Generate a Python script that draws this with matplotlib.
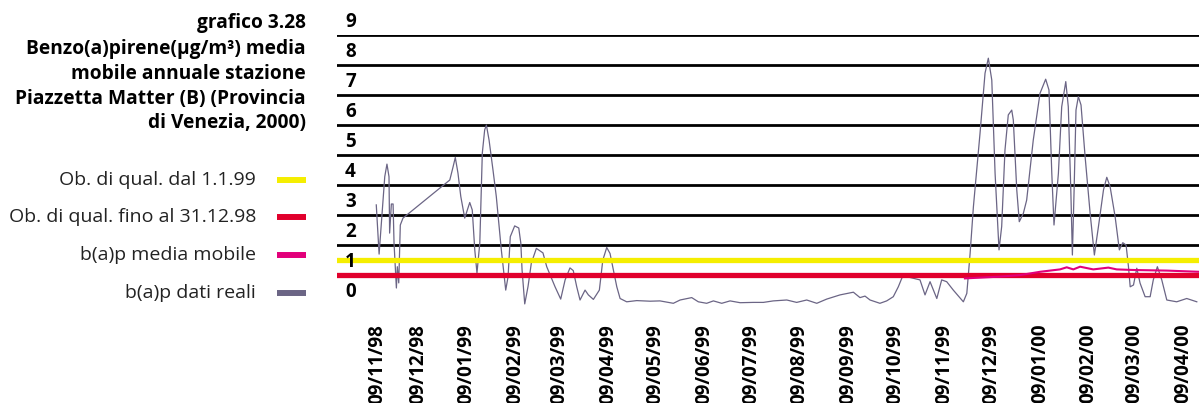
import numpy as np
import pandas as pd
import matplotlib
matplotlib.use("Agg")
import matplotlib.pyplot as plt
from matplotlib.lines import Line2D
from matplotlib.transforms import ScaledTranslation

plt.rcParams.update({"font.family": "Open Sans", "font.size": 12})

START = pd.Timestamp("1998-11-09")

# giorni dal 09/11/98 (ug/m3)
giorni_reali = [3.4, 5.2, 8.8, 10.2, 11.5, 11.9, 13.0, 14.1, 14.7, 16.2, 16.8, 17.7, 18.7, 20.4,
                50.2, 52.3, 53.7, 55.4, 57.2, 59.7, 62.9, 64.5, 66.1, 67.5, 69.3, 70.9, 72.4,
                73.5, 75.2, 77.7, 79.8, 83.0, 85.8, 87.3, 88.7, 91.5, 94.1, 95.4, 96.2, 97.9,
                100.0, 102.1, 105.3, 109.5, 111.9, 117.2, 120.8, 123.6, 126.7, 128.8, 131.0,
                133.1, 136.3, 138.4, 141.6, 145.4, 147.6, 150.1, 152.2, 154.3, 156.5, 158.6,
                162.8, 169.2, 177.7, 184.0, 192.5, 196.8, 204.2, 208.4, 213.7, 218.0, 223.3,
                228.6, 235.0, 243.4, 249.8, 256.1, 264.7, 271.0, 277.4, 283.8, 290.1, 298.6,
                307.1, 311.3, 314.5, 317.7, 324.0, 328.3, 332.5, 335.7, 338.5, 343.2, 349.5,
                352.7, 355.9, 360.2, 363.3, 366.5, 370.7, 377.1, 379.3, 381.4, 383.5, 387.7,
                390.9, 393.0, 395.2, 397.3, 399.8, 401.5, 403.6, 405.7, 407.9, 408.9, 411.1,
                412.7, 415.3, 417.4, 421.6, 425.9, 429.5, 431.6, 433.4, 434.8, 437.6, 439.7,
                442.3, 443.9, 445.5, 446.5, 447.6, 448.8, 450.3, 452.0, 454.6, 457.8, 460.5,
                463.1, 466.3, 468.4, 470.5, 473.7, 476.4, 478.6, 480.7, 482.2, 483.3, 485.4,
                487.5, 489.6, 492.8, 496.0, 498.0, 500.6, 503.4, 506.6, 512.9, 519.3, 525.7]
dati_reali = [3.32, 1.68, 4.26, 4.68, 4.26, 2.38, 3.35, 3.35, 2.05, 0.55, 1.26, 0.72, 2.65, 2.88,
              4.15, 4.59, 4.90, 4.38, 3.60, 2.88, 3.40, 3.15, 1.82, 1.05, 2.05, 5.05, 5.82,
              5.98, 5.48, 4.48, 3.60, 1.82, 0.48, 0.93, 2.26, 2.62, 2.55, 2.05, 1.15, 0.02,
              0.60, 1.38, 1.87, 1.72, 1.26, 0.59, 0.18, 0.82, 1.22, 1.13, 0.59,
              0.15, 0.48, 0.32, 0.17, 0.48, 1.48, 1.90, 1.70, 1.15, 0.59, 0.20,
              0.09, 0.13, 0.11, 0.12, 0.04, 0.15, 0.23, 0.09, 0.04, 0.12, 0.04,
              0.12, 0.06, 0.07, 0.07, 0.12, 0.15, 0.07, 0.15, 0.04, 0.18, 0.32,
              0.41, 0.23, 0.28, 0.15, 0.04, 0.12, 0.26, 0.59, 0.95, 0.90, 0.82,
              0.32, 0.76, 0.20, 0.82, 0.76, 0.48, 0.09, 0.37, 1.70, 3.26, 5.70,
              7.71, 8.21, 7.48, 4.37, 1.82, 2.60, 5.15, 6.32, 6.48, 6.15, 3.82,
              2.76, 3.04, 3.48, 5.48, 7.04, 7.51, 7.15, 4.37, 2.65, 4.37, 6.59,
              7.43, 6.59, 3.82, 1.65, 3.82, 6.48, 6.93, 6.65, 4.93, 3.04, 1.65,
              2.60, 3.82, 4.24, 3.93, 2.93, 1.82, 2.06, 1.98, 1.26, 0.59, 0.65,
              1.21, 0.71, 0.26, 0.26, 0.82, 1.26, 0.82, 0.15, 0.09, 0.20, 0.09]

giorni_media = [378.1, 400.4, 413.2, 425.9, 438.6, 442.9, 447.1, 451.4, 459.8, 469.4, 474.7,
                485.3, 506.6, 527.1]
media_mobile = [0.87, 0.93, 0.98, 1.09, 1.17, 1.24, 1.17, 1.26, 1.17, 1.23, 1.17,
                1.15, 1.13, 1.09]

ob_dal_1_1_99 = 1.5
ob_fino_31_12_98 = 1.0

tick_labels = ["09/11/98", "09/12/98", "09/01/99", "09/02/99", "09/03/99", "09/04/99",
               "09/05/99", "09/06/99", "09/07/99", "09/08/99", "09/09/99", "09/10/99",
               "09/11/99", "09/12/99", "09/01/00", "09/02/00", "09/03/00", "09/04/00"]
y_labels = list(range(0, 10))

titolo = ["grafico 3.28",
          "Benzo(a)pirene(\u00b5g/m\u00b3) media",
          "mobile annuale stazione",
          "Piazzetta Matter (B) (Provincia",
          "di Venezia, 2000)"]
legenda = [("Ob. di qual. dal 1.1.99", "#f5ee00"),
           ("Ob. di qual. fino al 31.12.98", "#e1002c"),
           ("b(a)p media mobile", "#e2007a"),
           ("b(a)p dati reali", "#6b6585")]

W, H = 1199, 403
fig = plt.figure(figsize=(W / 100, H / 100), dpi=100)
ax = fig.add_axes([337 / W, (H - 304.5) / H, (W - 337) / W, 270 / H])
ax.set_xlim(-21.6, 527.1)
ax.set_ylim(0, 9)
for s in ax.spines.values():
    s.set_visible(False)

for v in range(1, 10):
    ax.axhline(v, color="black", lw=2.0, zorder=1)
ax.plot(giorni_reali, dati_reali, color="#6b6585", lw=0.9, zorder=2)
ax.axhline(ob_dal_1_1_99, color="#f5ee00", lw=3.8, zorder=3)
ax.axhline(ob_fino_31_12_98, color="#e1002c", lw=3.8, zorder=3)
ax.plot(giorni_media, media_mobile, color="#e2007a", lw=1.5, zorder=4)

ax.set_yticks([])
for v in y_labels:
    ax.text(8 / (W - 337), v + 0.42, str(v), transform=ax.get_yaxis_transform(),
            ha="left", va="center", fontsize=13.5, fontweight="bold", clip_on=False)

tick_days = [(pd.to_datetime(t, format="%d/%m/%y") - START).days for t in tick_labels]
ax.set_xticks(tick_days)
ax.set_xticklabels(tick_labels, rotation=90, fontsize=13.5, fontweight="bold",
                   va="top", ha="center")
ax.tick_params(axis="x", length=0, pad=14)
# first label sits a little to the right in the original
first = ax.get_xticklabels()[0]
first.set_transform(first.get_transform() + ScaledTranslation(0.06, 0, fig.dpi_scale_trans))

for i, line in enumerate(titolo):
    fig.text(306 / W, 1 - [22.7, 49, 74, 99, 123][i] / H, line, ha="right", va="center",
             fontsize=13.8, fontweight="bold")

for i, (lab, col) in enumerate(legenda):
    yy = 1 - [180, 217, 255, 293][i] / H
    fig.text(256 / W, yy, lab, ha="right", va="center", fontsize=14, color="#222222")
    fig.add_artist(Line2D([277 / W, 306 / W], [yy, yy], color=col, lw=4.3,
                          solid_capstyle="butt", transform=fig.transFigure))

fig.savefig("out.png", dpi=100)
